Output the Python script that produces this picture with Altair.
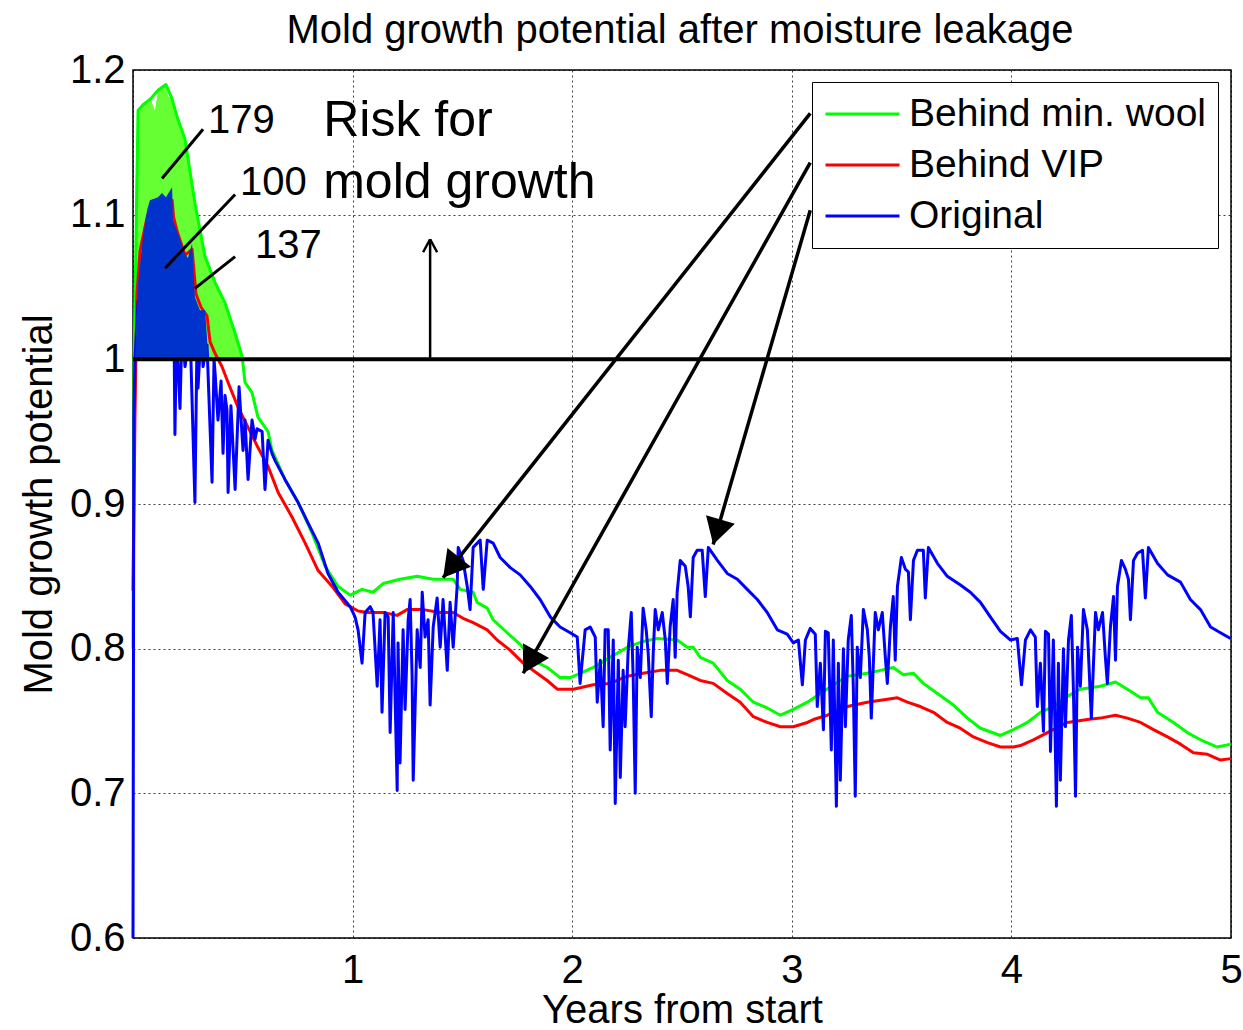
import math
import altair as alt
import pandas as pd

# ---------------- data (years, mold growth potential) ----------------
TITLE = "Mold growth potential after moisture leakage"
SERIES = ["Behind min. wool", "Behind VIP", "Original"]
COLORS = ["#00ff00", "#ff0000", "#0000ff"]

GREEN = [(0.000, 0.800), (0.005, 1.000), (0.023, 1.172), (0.046, 1.176), (0.080, 1.180), (0.114, 1.186),
         (0.150, 1.190), (0.178, 1.180), (0.200, 1.168), (0.237, 1.152), (0.282, 1.108), (0.328, 1.071),
         (0.374, 1.053), (0.419, 1.039), (0.465, 1.018), (0.497, 1.002), (0.510, 0.984), (0.542, 0.977),
         (0.569, 0.960), (0.615, 0.950), (0.633, 0.937), (0.692, 0.917), (0.752, 0.901), (0.815, 0.880),
         (0.875, 0.857), (0.934, 0.843), (0.989, 0.837), (1.043, 0.841), (1.093, 0.839), (1.139, 0.845),
         (1.216, 0.848), (1.294, 0.850), (1.367, 0.848), (1.458, 0.848), (1.490, 0.841), (1.549, 0.839),
         (1.567, 0.832), (1.613, 0.828), (1.640, 0.820), (1.704, 0.811), (1.763, 0.803), (1.822, 0.792),
         (1.886, 0.787), (1.945, 0.780), (1.991, 0.780), (2.036, 0.783), (2.096, 0.787), (2.173, 0.794),
         (2.251, 0.801), (2.323, 0.805), (2.387, 0.807), (2.478, 0.806), (2.524, 0.801), (2.551, 0.801),
         (2.583, 0.794), (2.642, 0.790), (2.706, 0.778), (2.765, 0.772), (2.825, 0.763), (2.888, 0.759),
         (2.948, 0.754), (3.007, 0.758), (3.071, 0.763), (3.130, 0.769), (3.221, 0.778), (3.253, 0.781),
         (3.344, 0.783), (3.403, 0.785), (3.462, 0.787), (3.508, 0.782), (3.554, 0.783), (3.599, 0.776),
         (3.663, 0.769), (3.736, 0.761), (3.800, 0.752), (3.859, 0.745), (3.950, 0.740), (4.009, 0.744),
         (4.073, 0.749), (4.132, 0.756), (4.191, 0.760), (4.255, 0.767), (4.314, 0.772), (4.405, 0.774),
         (4.474, 0.777), (4.528, 0.772), (4.588, 0.766), (4.624, 0.766), (4.665, 0.756), (4.738, 0.749),
         (4.801, 0.742), (4.861, 0.737), (4.938, 0.732), (5.000, 0.734)]

RED = [(0.000, 0.840), (0.009, 0.960), (0.018, 1.045), (0.032, 1.075), (0.064, 1.098), (0.077, 1.104),
       (0.114, 1.106), (0.132, 1.108), (0.178, 1.110), (0.185, 1.098), (0.202, 1.088), (0.237, 1.072),
       (0.269, 1.076), (0.287, 1.045), (0.310, 1.036), (0.337, 1.030), (0.351, 1.012), (0.374, 1.004),
       (0.405, 0.995), (0.433, 0.984), (0.478, 0.967), (0.524, 0.953), (0.569, 0.939), (0.615, 0.926),
       (0.661, 0.908), (0.724, 0.891), (0.784, 0.873), (0.843, 0.854), (0.907, 0.843), (0.966, 0.831),
       (1.025, 0.826), (1.066, 0.825), (1.139, 0.825), (1.203, 0.823), (1.248, 0.827), (1.321, 0.827),
       (1.399, 0.825), (1.458, 0.825), (1.503, 0.821), (1.549, 0.818), (1.613, 0.813), (1.658, 0.806),
       (1.717, 0.799), (1.777, 0.790), (1.840, 0.783), (1.886, 0.778), (1.932, 0.772), (2.005, 0.772),
       (2.036, 0.773), (2.096, 0.775), (2.173, 0.776), (2.251, 0.781), (2.323, 0.783), (2.401, 0.785),
       (2.478, 0.785), (2.524, 0.782), (2.583, 0.778), (2.642, 0.776), (2.706, 0.769), (2.765, 0.763),
       (2.825, 0.753), (2.888, 0.749), (2.948, 0.746), (3.007, 0.746), (3.071, 0.749), (3.098, 0.751),
       (3.162, 0.754), (3.253, 0.760), (3.344, 0.763), (3.435, 0.765), (3.481, 0.766), (3.526, 0.763),
       (3.585, 0.760), (3.645, 0.756), (3.708, 0.749), (3.767, 0.745), (3.827, 0.739), (3.891, 0.735),
       (3.950, 0.732), (4.009, 0.732), (4.041, 0.733), (4.100, 0.737), (4.164, 0.742), (4.255, 0.749),
       (4.346, 0.751), (4.405, 0.752), (4.474, 0.754), (4.528, 0.752), (4.588, 0.749), (4.647, 0.744),
       (4.711, 0.739), (4.770, 0.734), (4.829, 0.728), (4.893, 0.727), (4.952, 0.723), (5.000, 0.724)]

BLUE = [(0.000, 0.600), (0.004, 0.960), (0.009, 1.000), (0.023, 1.040), (0.100, 1.050), (0.185, 1.050),
        (0.191, 0.948), (0.198, 1.020), (0.214, 0.966), (0.223, 1.020), (0.237, 0.995), (0.260, 1.020),
        (0.282, 0.901), (0.292, 1.020), (0.296, 0.980), (0.310, 1.020), (0.319, 0.995), (0.337, 1.010),
        (0.360, 0.915), (0.369, 1.000), (0.374, 0.990), (0.387, 0.958), (0.401, 0.985), (0.410, 0.935),
        (0.419, 0.975), (0.428, 0.965), (0.433, 0.908), (0.446, 0.968), (0.465, 0.910), (0.483, 0.981),
        (0.501, 0.937), (0.510, 0.958), (0.524, 0.917), (0.542, 0.958), (0.556, 0.945), (0.565, 0.952),
        (0.588, 0.950), (0.601, 0.910), (0.615, 0.944), (0.633, 0.935), (0.647, 0.930), (0.692, 0.917),
        (0.752, 0.901), (0.797, 0.887), (0.843, 0.873), (0.888, 0.852), (0.934, 0.839), (0.989, 0.829),
        (1.011, 0.822), (1.025, 0.813), (1.043, 0.790), (1.057, 0.825), (1.080, 0.829), (1.093, 0.825),
        (1.112, 0.774), (1.125, 0.820), (1.134, 0.756), (1.148, 0.825), (1.162, 0.822), (1.171, 0.742),
        (1.185, 0.825), (1.203, 0.702), (1.207, 0.804), (1.216, 0.721), (1.230, 0.813), (1.239, 0.758),
        (1.253, 0.820), (1.262, 0.834), (1.271, 0.781), (1.276, 0.709), (1.294, 0.813), (1.308, 0.787),
        (1.317, 0.839), (1.330, 0.808), (1.344, 0.820), (1.353, 0.761), (1.367, 0.815), (1.385, 0.835),
        (1.399, 0.801), (1.412, 0.834), (1.431, 0.785), (1.444, 0.832), (1.458, 0.801), (1.476, 0.843),
        (1.481, 0.870), (1.503, 0.861), (1.522, 0.843), (1.535, 0.827), (1.549, 0.870), (1.581, 0.875),
        (1.595, 0.841), (1.613, 0.875), (1.640, 0.873), (1.672, 0.863), (1.718, 0.856), (1.763, 0.851),
        (1.809, 0.843), (1.854, 0.834), (1.900, 0.822), (1.945, 0.815), (1.991, 0.811), (2.023, 0.808),
        (2.036, 0.776), (2.059, 0.813), (2.082, 0.815), (2.105, 0.808), (2.114, 0.763), (2.128, 0.792),
        (2.141, 0.746), (2.150, 0.813), (2.164, 0.813), (2.173, 0.730), (2.187, 0.806), (2.196, 0.693),
        (2.210, 0.792), (2.219, 0.711), (2.232, 0.785), (2.241, 0.746), (2.255, 0.799), (2.269, 0.825),
        (2.278, 0.778), (2.287, 0.700), (2.296, 0.801), (2.310, 0.780), (2.323, 0.828), (2.337, 0.813),
        (2.346, 0.797), (2.360, 0.753), (2.369, 0.797), (2.378, 0.827), (2.392, 0.813), (2.410, 0.825),
        (2.424, 0.806), (2.433, 0.776), (2.446, 0.815), (2.460, 0.834), (2.469, 0.794), (2.478, 0.839),
        (2.492, 0.861), (2.515, 0.857), (2.528, 0.843), (2.538, 0.822), (2.551, 0.863), (2.569, 0.868),
        (2.592, 0.868), (2.606, 0.836), (2.620, 0.870), (2.661, 0.861), (2.706, 0.852), (2.752, 0.848),
        (2.797, 0.841), (2.843, 0.834), (2.888, 0.825), (2.934, 0.813), (2.979, 0.810), (3.007, 0.804),
        (3.030, 0.806), (3.048, 0.775), (3.062, 0.806), (3.084, 0.814), (3.107, 0.810), (3.116, 0.760),
        (3.130, 0.790), (3.144, 0.744), (3.153, 0.812), (3.166, 0.811), (3.180, 0.730), (3.189, 0.806),
        (3.203, 0.691), (3.212, 0.790), (3.221, 0.709), (3.235, 0.800), (3.244, 0.746), (3.257, 0.806),
        (3.271, 0.823), (3.280, 0.774), (3.289, 0.698), (3.298, 0.801), (3.312, 0.780), (3.326, 0.827),
        (3.344, 0.813), (3.353, 0.794), (3.362, 0.752), (3.380, 0.825), (3.394, 0.813), (3.412, 0.825),
        (3.426, 0.794), (3.435, 0.776), (3.449, 0.815), (3.462, 0.836), (3.471, 0.792), (3.481, 0.843),
        (3.499, 0.863), (3.517, 0.855), (3.531, 0.853), (3.540, 0.820), (3.554, 0.861), (3.572, 0.868),
        (3.599, 0.868), (3.608, 0.835), (3.622, 0.870), (3.663, 0.859), (3.708, 0.850), (3.768, 0.844),
        (3.813, 0.839), (3.859, 0.832), (3.904, 0.822), (3.950, 0.812), (3.995, 0.806), (4.027, 0.807),
        (4.046, 0.775), (4.064, 0.806), (4.087, 0.813), (4.109, 0.808), (4.118, 0.760), (4.132, 0.790),
        (4.146, 0.743), (4.155, 0.812), (4.169, 0.810), (4.178, 0.729), (4.191, 0.806), (4.205, 0.691),
        (4.214, 0.790), (4.223, 0.709), (4.237, 0.800), (4.246, 0.746), (4.260, 0.806), (4.273, 0.823),
        (4.282, 0.774), (4.292, 0.698), (4.301, 0.801), (4.314, 0.774), (4.328, 0.827), (4.346, 0.813),
        (4.364, 0.752), (4.383, 0.825), (4.396, 0.813), (4.415, 0.825), (4.428, 0.794), (4.437, 0.776),
        (4.451, 0.815), (4.465, 0.836), (4.474, 0.792), (4.483, 0.843), (4.501, 0.861), (4.519, 0.855),
        (4.533, 0.848), (4.542, 0.820), (4.556, 0.861), (4.574, 0.866), (4.597, 0.868), (4.610, 0.835),
        (4.624, 0.870), (4.665, 0.859), (4.711, 0.851), (4.770, 0.846), (4.815, 0.834), (4.861, 0.827),
        (4.907, 0.815), (4.952, 0.811), (4.998, 0.807)]

# light-green patch (the "179" region) and darker blue patch (the "100" region) above the risk line
GREEN_FILL = [(0.005, 1.000), (0.012, 1.120), (0.023, 1.172), (0.046, 1.176), (0.080, 1.180), (0.100, 1.172),
              (0.114, 1.186), (0.150, 1.190), (0.160, 1.182), (0.178, 1.180), (0.200, 1.168), (0.237, 1.152),
              (0.282, 1.108), (0.328, 1.071), (0.374, 1.053), (0.419, 1.039), (0.465, 1.018), (0.497, 1.000)]
BLUE_FILL = [(0.009, 1.000), (0.023, 1.053), (0.046, 1.085), (0.064, 1.103), (0.077, 1.110), (0.114, 1.112),
             (0.132, 1.115), (0.150, 1.112), (0.178, 1.119), (0.182, 1.096), (0.200, 1.089), (0.237, 1.073),
             (0.250, 1.070), (0.269, 1.080), (0.282, 1.043), (0.305, 1.034), (0.328, 1.034), (0.337, 1.015),
             (0.342, 1.000)]

RISK_LEVEL = 1.0

# annotations (data coordinates)
NUM_TEXT = ["179", "100", "137"]
NUM_X = [0.342, 0.487, 0.556]
NUM_Y = [1.165, 1.122, 1.078]
BIG_TEXT = ["Risk for", "mold growth"]
BIG_X = [0.866, 0.866]
BIG_Y = [1.165, 1.122]

LEADER_X0 = [0.132, 0.146, 0.282]
LEADER_Y0 = [1.125, 1.063, 1.049]
LEADER_X1 = [0.319, 0.465, 0.465]
LEADER_Y1 = [1.159, 1.114, 1.071]

UP_X = [1.353, 1.353, 1.353]
UP_Y0 = [1.000, 1.083, 1.083]
UP_X1 = [1.353, 1.321, 1.385]
UP_Y1 = [1.083, 1.074, 1.074]

ARROW_X0 = [3.084, 3.084, 3.084]
ARROW_Y0 = [1.170, 1.136, 1.103]
ARROW_X1 = [1.412, 1.777, 2.642]
ARROW_Y1 = [0.849, 0.783, 0.872]

# ---------------- tables ----------------
rows = []
for name, pts in zip(SERIES, [GREEN, RED, BLUE]):
    for i, (x, y) in enumerate(pts):
        rows.append({"series": name, "x": x, "y": y, "i": i})
lines_df = pd.DataFrame(rows)
green_df = lines_df[lines_df.series == SERIES[0]]
red_df = lines_df[lines_df.series == SERIES[1]]
blue_df = lines_df[lines_df.series == SERIES[2]]
gfill_df = pd.DataFrame({"x": [p[0] for p in GREEN_FILL], "y": [p[1] for p in GREEN_FILL]})
bfill_df = pd.DataFrame({"x": [p[0] for p in BLUE_FILL], "y": [p[1] for p in BLUE_FILL]})

leader_df = pd.DataFrame({"x": LEADER_X0, "y": LEADER_Y0, "x2": LEADER_X1, "y2": LEADER_Y1})
up_df = pd.DataFrame({"x": UP_X, "y": UP_Y0, "x2": UP_X1, "y2": UP_Y1})
arrow_df = pd.DataFrame({"x": ARROW_X0, "y": ARROW_Y0, "x2": ARROW_X1, "y2": ARROW_Y1})
risk_df = pd.DataFrame({"x": [0.0], "x2": [5.0], "y": [RISK_LEVEL]})

# arrowheads: orientation follows the arrow direction on screen
W, H = 1098, 868
PX_X, PX_Y = W / 5.0, H / 0.6
heads = []
for x0, y0, x1, y1 in zip(ARROW_X0, ARROW_Y0, ARROW_X1, ARROW_Y1):
    dx = (x1 - x0) * PX_X
    dy = -(y1 - y0) * PX_Y
    ln = math.hypot(dx, dy)
    ux, uy = dx / ln, dy / ln
    ang = math.degrees(math.atan2(dx, -dy)) % 360
    back = 13
    heads.append({"x": x1 - ux * back / PX_X, "y": y1 + uy * back / PX_Y, "angle": ang})
heads_df = pd.DataFrame(heads)

num_df = pd.DataFrame({"x": NUM_X, "y": NUM_Y, "t": NUM_TEXT})
big_df = pd.DataFrame({"x": BIG_X, "y": BIG_Y, "t": BIG_TEXT})
title_df = pd.DataFrame({"t": [TITLE]})

FONT = "Liberation Sans"

xs = alt.Scale(domain=[0, 5], nice=False, zero=False)
ys = alt.Scale(domain=[0.6, 1.2], nice=False, zero=False)
x_axis = alt.Axis(values=[0, 1, 2, 3, 4, 5], labelExpr="datum.value == 0 ? '' : datum.label",
                  title="Years from start", labelPadding=12, titlePadding=0, labelFlush=False,
                  labelOverlap=False)
y_axis = alt.Axis(values=[0.6, 0.7, 0.8, 0.9, 1.0, 1.1, 1.2], format=".1~f",
                  title="Mold growth potential", labelPadding=8, titlePadding=10,
                  labelOverlap=False, labelFlush=False)

X = alt.X("x:Q", scale=xs, axis=x_axis)
Y = alt.Y("y:Q", scale=ys, axis=y_axis)

color = alt.Color("series:N", scale=alt.Scale(domain=SERIES, range=COLORS),
                  legend=alt.Legend(title=None, orient="none", legendX=679, legendY=12))

green_fill = alt.Chart(gfill_df).mark_area(color="#66ff33", opacity=1).encode(
    x=X, y=Y, y2=alt.datum(RISK_LEVEL))

def line_layer(df):
    return alt.Chart(df).mark_line(strokeWidth=3, strokeJoin="round").encode(
        x=X, y=Y, order="i:Q", color=color)

blue_fill = alt.Chart(bfill_df).mark_area(color="#0033cc", opacity=1).encode(
    x=X, y=Y, y2=alt.datum(RISK_LEVEL))

risk_line = alt.Chart(risk_df).mark_rule(color="black", strokeWidth=4).encode(
    x=X, x2="x2:Q", y=Y)

leaders = alt.Chart(leader_df).mark_rule(color="black", strokeWidth=3).encode(
    x=X, y=Y, x2="x2:Q", y2="y2:Q")
up_arrow = alt.Chart(up_df).mark_rule(color="black", strokeWidth=2.5).encode(
    x=X, y=Y, x2="x2:Q", y2="y2:Q")
arrows = alt.Chart(arrow_df).mark_rule(color="black", strokeWidth=3.5).encode(
    x=X, y=Y, x2="x2:Q", y2="y2:Q")
arrow_heads = alt.Chart(heads_df).mark_point(shape="triangle-up", filled=True, color="black",
                                             size=900, opacity=1).encode(
    x=X, y=Y, angle=alt.Angle("angle:Q", scale=None))

num_text = alt.Chart(num_df).mark_text(font=FONT, fontSize=40, align="left", baseline="middle",
                                       color="black").encode(x=X, y=Y, text="t:N")
big_text = alt.Chart(big_df).mark_text(font=FONT, fontSize=50, align="left", baseline="middle",
                                       color="black").encode(x=X, y=Y, text="t:N")
title_text = alt.Chart(title_df).mark_text(font=FONT, fontSize=40, align="center",
                                           baseline="alphabetic", color="black").encode(
    x=alt.value(W / 2 - 2), y=alt.value(-27), text="t:N")

chart = alt.layer(
    green_fill, line_layer(green_df), line_layer(red_df), line_layer(blue_df), blue_fill,
    risk_line, leaders, up_arrow, arrows, arrow_heads, num_text, big_text, title_text
).properties(
    width=W, height=H,
    autosize=alt.AutoSizeParams(type="none"),
    padding={"left": 133, "top": 70, "right": 12, "bottom": 92},
).configure_view(
    stroke="black", strokeWidth=1.5
).configure_axis(
    labelFont=FONT, labelFontSize=40, labelColor="black",
    titleFont=FONT, titleFontSize=40, titleFontWeight="normal", titleColor="black",
    grid=True, gridColor="#000000", gridDash=[2, 3], gridOpacity=0.75, gridWidth=1,
    domain=False, ticks=False
).configure_legend(
    symbolType="stroke", symbolSize=5476, symbolStrokeWidth=3, clipHeight=40,
    labelFont=FONT, labelFontSize=39, labelColor="black", labelLimit=600, labelOffset=8,
    rowPadding=11, padding=12, strokeColor="black", fillColor="white", cornerRadius=0,
    symbolOpacity=1
)

chart.save("out.html", embed_options={"renderer": "svg", "actions": False})
